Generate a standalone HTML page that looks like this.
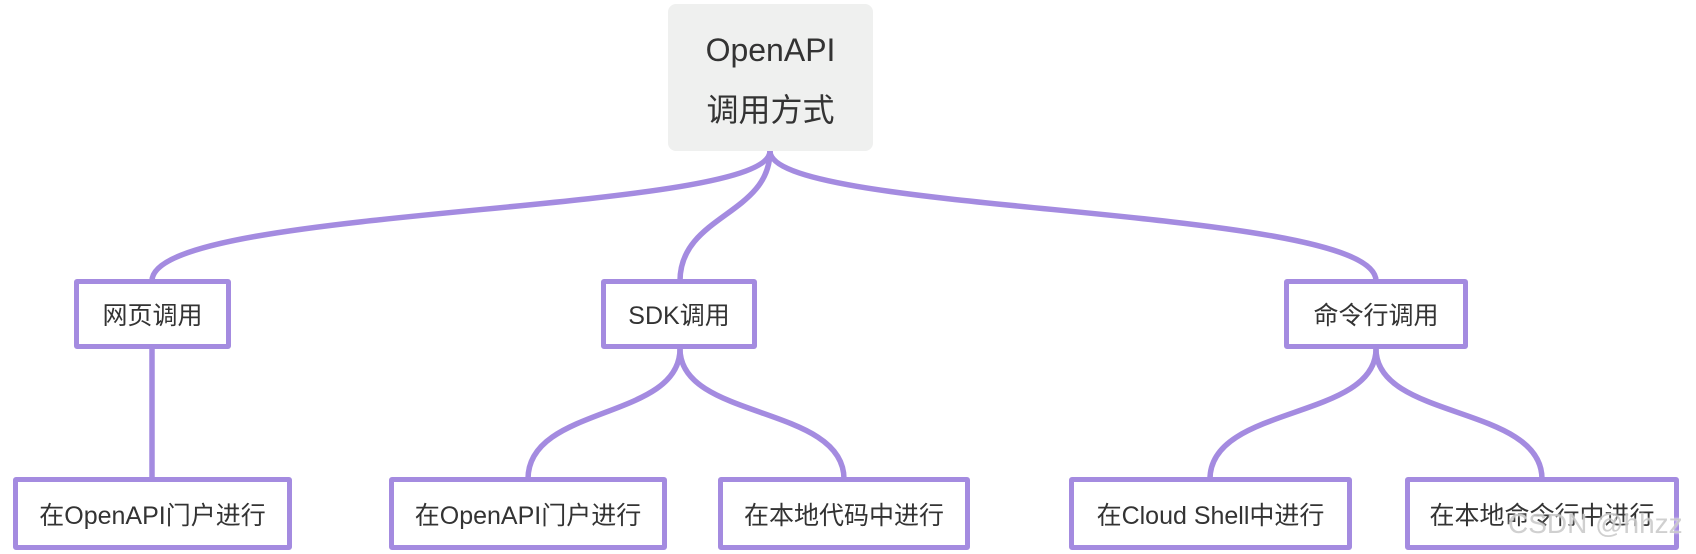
<!DOCTYPE html>
<html><head><meta charset="utf-8"><style>
body{margin:0;width:1696px;height:554px;background:#fff;overflow:hidden;position:relative;font-family:"Liberation Sans","Noto Sans CJK SC",sans-serif;color:#333}
.b{position:absolute;box-sizing:border-box;border:5.5px solid #a48be0;border-radius:3px;background:#fff;display:flex;align-items:center;justify-content:center;font-size:25px;white-space:nowrap}
.root{position:absolute;left:668px;top:4px;width:205px;height:147px;background:#eff0ef;border-radius:8px;font-size:32px;text-align:center;line-height:60px;padding-top:16px;box-sizing:border-box}
svg{position:absolute;left:0;top:0}
.wm{position:absolute;left:1508px;top:508px;font-size:28px;color:#ccc;text-shadow:0 0 2px #fff;opacity:.9}
</style></head><body>
<svg width="1696" height="554"><g fill="none" stroke="#a48be0" stroke-width="5.5">
<path d="M770 151 C770 215 152 205 152 281"/>
<path d="M770 151 C770 215 680 215 680 281"/>
<path d="M770 151 C770 215 1376 205 1376 281"/>
<path d="M152 349 L152 479"/>
<path d="M680 349 C680 420 528 405 528 479"/>
<path d="M680 349 C680 420 844 405 844 479"/>
<path d="M1376 349 C1376 420 1210 405 1210 479"/>
<path d="M1376 349 C1376 420 1542 405 1542 479"/>
</g></svg>
<div class="root">OpenAPI<br>调用方式</div>
<div class="b" style="left:74px;top:279px;width:157px;height:70px">网页调用</div>
<div class="b" style="left:601px;top:279px;width:156px;height:70px">SDK调用</div>
<div class="b" style="left:1284px;top:279px;width:184px;height:70px">命令行调用</div>
<div class="b" style="left:13px;top:477px;width:279px;height:73px">在OpenAPI门户进行</div>
<div class="b" style="left:389px;top:477px;width:278px;height:73px">在OpenAPI门户进行</div>
<div class="b" style="left:718px;top:477px;width:252px;height:73px">在本地代码中进行</div>
<div class="b" style="left:1069px;top:477px;width:283px;height:73px">在Cloud Shell中进行</div>
<div class="b" style="left:1405px;top:477px;width:274px;height:73px">在本地命令行中进行</div>
<div class="wm">CSDN @hhzz</div>
</body></html>
